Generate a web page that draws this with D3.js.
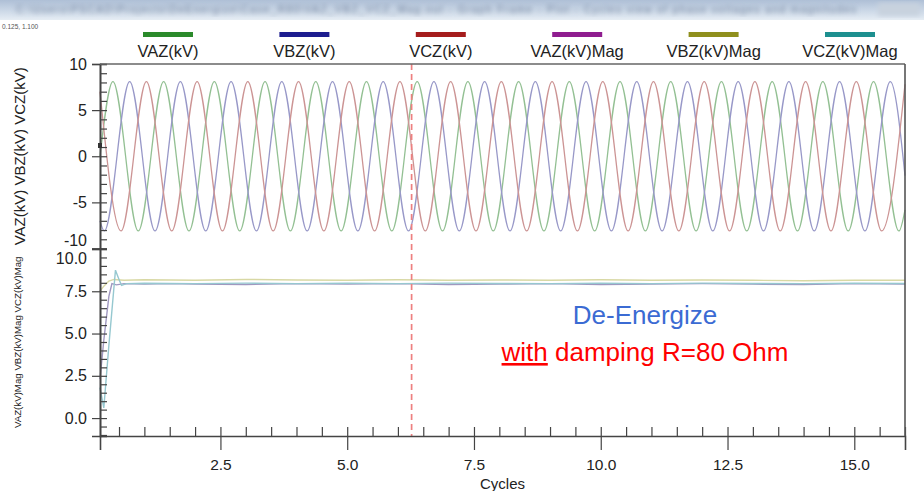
<!DOCTYPE html>
<html><head><meta charset="utf-8">
<script src="https://cdn.jsdelivr.net/npm/d3@7"></script>
<style>
body{margin:0;background:#fff;}
svg{display:block;font-family:"Liberation Sans",Arial,sans-serif;}
</style>
</head><body>
<svg id="chart" width="924" height="491"></svg>
<script>
// ---------- data ----------
const seriesNames = ["VAZ(kV)","VBZ(kV)","VCZ(kV)","VAZ(kV)Mag","VBZ(kV)Mag","VCZ(kV)Mag"];
const legendColors = ["#2b8a2b","#1d1d8f","#a51d1d","#8f1d8f","#8f8f1d","#1d8f8f"];
const traceColors  = ["#93c093","#9898c8","#cc9494","#a098c0","#d8d8a4","#96c8d0"];

// instantaneous voltages: values at edges and at every peak / trough (cycles, kV)
const vazT = [0.125,0.38,0.88,1.38,1.88,2.38,2.88,3.38,3.88,4.38,4.88,5.38,5.88,6.38,6.88,7.38,7.88,8.38,8.88,9.38,9.88,10.38,10.88,11.38,11.88,12.38,12.88,13.38,13.88,14.38,14.88,15.38,15.88,16.0];
const vazV = [0.0,8.1,-8.1,8.1,-8.1,8.1,-8.1,8.1,-8.1,8.1,-8.1,8.1,-8.1,8.1,-8.1,8.1,-8.1,8.1,-8.1,8.1,-8.1,8.1,-8.1,8.1,-8.1,8.1,-8.1,8.1,-8.1,8.1,-8.1,8.1,-8.1,-5.8];
const vbzT = [0.125,0.21,0.71,1.21,1.71,2.21,2.71,3.21,3.71,4.21,4.71,5.21,5.71,6.21,6.71,7.21,7.71,8.21,8.71,9.21,9.71,10.21,10.71,11.21,11.71,12.21,12.71,13.21,13.71,14.21,14.71,15.21,15.71,16.0];
const vbzV = [-7.0,-8.1,8.1,-8.1,8.1,-8.1,8.1,-8.1,8.1,-8.1,8.1,-8.1,8.1,-8.1,8.1,-8.1,8.1,-8.1,8.1,-8.1,8.1,-8.1,8.1,-8.1,8.1,-8.1,8.1,-8.1,8.1,-8.1,8.1,-8.1,8.1,-2.1];
const vczT = [0.125,0.54,1.04,1.54,2.04,2.54,3.04,3.54,4.04,4.54,5.04,5.54,6.04,6.54,7.04,7.54,8.04,8.54,9.04,9.54,10.04,10.54,11.04,11.54,12.04,12.54,13.04,13.54,14.04,14.54,15.04,15.54,16.0];
const vczV = [7.0,-8.1,8.1,-8.1,8.1,-8.1,8.1,-8.1,8.1,-8.1,8.1,-8.1,8.1,-8.1,8.1,-8.1,8.1,-8.1,8.1,-8.1,8.1,-8.1,8.1,-8.1,8.1,-8.1,8.1,-8.1,8.1,-8.1,8.1,-8.1,7.8];

// magnitudes (cycles, kV)
const vazMagT = [0.125,0.2,0.3,0.36,0.45,0.6,1,1.5,2,3,4,5,6,7,8,9,10,11,12,13,14,15,16];
const vazMagV = [2.3,4.6,7.2,7.95,7.88,7.95,7.92,7.95,7.93,7.9,7.95,7.92,7.95,7.9,7.93,7.95,7.9,7.93,7.95,7.92,7.9,7.95,7.93];
const vbzMagT = [0.125,0.2,0.3,0.4,0.6,1,2,3,4,5,6,7,8,9,10,11,12,13,14,15,16];
const vbzMagV = [7.5,7.8,8.1,8.2,8.15,8.18,8.15,8.2,8.17,8.15,8.18,8.15,8.17,8.15,8.18,8.15,8.17,8.15,8.12,8.15,8.15];
const vczMagT = [0.125,0.2,0.3,0.43,0.5,0.55,0.65,1,2,3,4,5,6,7,8,9,10,11,12,13,14,15,16];
const vczMagV = [1.8,0.6,4.3,8.75,8.2,7.85,7.95,7.97,7.95,7.98,7.95,7.97,7.95,7.98,7.96,7.95,7.97,7.95,7.98,7.96,7.95,7.97,7.96];

const markerCycle = 6.27;
const xMajor = [2.5,5.0,7.5,10.0,12.5,15.0];
const yTopMajor = [-10,-5,0,5,10];
const yBotMajor = [0,2.5,5,7.5,10];
const xDomain = [0.125,16.0];
const yTopDomain = [-10,10];
const yBotDomain = [-1.06,10];
const titleTop = "VAZ(kV) VBZ(kV) VCZ(kV)";
const titleBot = "VAZ(kV)Mag VBZ(kV)Mag VCZ(kV)Mag";

// ---------- drawing ----------
const svg = d3.select("#chart");
const L = 100, R = 905, T = 64, MID = 248.5, B = 436;

// window title bar imitation
const defs = svg.append("defs");
const g1 = defs.append("linearGradient").attr("id","tb").attr("x1",0).attr("y1",0).attr("x2",0).attr("y2",1);
g1.append("stop").attr("offset","0%").attr("stop-color","#aebfd6");
g1.append("stop").attr("offset","60%").attr("stop-color","#cfdbe9");
g1.append("stop").attr("offset","100%").attr("stop-color","#e6edf4");
defs.append("filter").attr("id","blur").append("feGaussianBlur").attr("stdDeviation",2.4);
svg.append("rect").attr("x",0).attr("y",0).attr("width",924).attr("height",20).attr("fill","url(#tb)");
svg.append("text").attr("x",16).attr("y",13).attr("font-size",10).attr("fill","#6d7e99")
  .attr("filter","url(#blur)").attr("textLength",840)
  .text("C:\\Users\\PSCAD\\Projects\\DeEnergize\\Case_R80\\VAZ_VBZ_VCZ_Mag.out - Graph Frame - Plot - Cycles view of phase voltages and magnitudes");
svg.append("rect").attr("x",878).attr("y",3).attr("width",42).attr("height",13).attr("fill","#c8d2de").attr("filter","url(#blur)");
svg.append("text").attr("x",2).attr("y",29).attr("font-size",6.5).attr("fill","#555").text("0.125, 1.100");

const x = d3.scaleLinear().domain(xDomain).range([L,R]);
const yT = d3.scaleLinear().domain(yTopDomain).range([MID,T]);
const yB = d3.scaleLinear().domain(yBotDomain).range([B,MID+0.5]);

// legend
const lx = d3.scalePoint().domain(seriesNames).range([168,850]);
const lg = svg.append("g").selectAll("g").data(seriesNames).join("g")
  .attr("transform",d=>`translate(${lx(d)},0)`);
lg.append("rect").attr("x",-25).attr("y",32).attr("width",50).attr("height",5)
  .attr("fill",(d,i)=>legendColors[i]);
lg.append("text").attr("y",57).attr("text-anchor","middle").attr("font-size",16.5)
  .attr("fill","#222").text(d=>d);

// traces
const lineCurve = d3.line().x(d=>x(d[0])).y(d=>yT(d[1])).curve(d3.curveMonotoneX);
const zipT = (t,v)=>t.map((tt,i)=>[tt,v[i]]);
const waves = [zipT(vazT,vazV),zipT(vbzT,vbzV),zipT(vczT,vczV)];
svg.append("g").selectAll("path").data(waves).join("path")
  .attr("d",lineCurve).attr("fill","none")
  .attr("stroke",(d,i)=>traceColors[i]).attr("stroke-width",1.3);

const magLine = d3.line().x(d=>x(d[0])).y(d=>yB(d[1]));
const mags = [zipT(vazMagT,vazMagV),zipT(vbzMagT,vbzMagV),zipT(vczMagT,vczMagV)];
svg.append("g").selectAll("path").data(mags).join("path")
  .attr("d",magLine).attr("fill","none")
  .attr("stroke",(d,i)=>traceColors[i+3]).attr("stroke-width",1.4);

// marker line
svg.append("line").attr("x1",x(markerCycle)).attr("x2",x(markerCycle))
  .attr("y1",T).attr("y2",B).attr("stroke","#ee8080").attr("stroke-width",1.7)
  .attr("stroke-dasharray","6,4");

// axes
const axCol = "#444";
const plain = d => String(d);
function styleAxis(g, fs){
  g.select(".domain").attr("stroke",axCol).attr("stroke-width",1.6);
  g.selectAll(".tick line").attr("stroke",axCol).attr("stroke-width",1.2);
  g.selectAll("text").attr("font-size",fs).attr("fill","#222").attr("font-family","Liberation Sans, Arial, sans-serif");
}
// top panel
const gTmin = svg.append("g").attr("transform",`translate(${L},0)`)
  .call(d3.axisLeft(yT).tickValues(d3.range(-10,10.01,1)).tickSize(-7).tickFormat(""));
styleAxis(gTmin,16);
const gT = svg.append("g").attr("transform",`translate(${L},0)`)
  .call(d3.axisLeft(yT).tickValues(yTopMajor).tickSize(8).tickPadding(5).tickFormat(plain));
styleAxis(gT,16);
gT.selectAll(".tick text").attr("dy",d=>d===-10?"-0.2em":"0.32em");
// bottom panel
const gBmin = svg.append("g").attr("transform",`translate(${L},0)`)
  .call(d3.axisLeft(yB).tickValues(d3.range(-1,10.01,0.5)).tickSize(-7).tickFormat(""));
styleAxis(gBmin,16);
const gB = svg.append("g").attr("transform",`translate(${L},0)`)
  .call(d3.axisLeft(yB).tickValues(yBotMajor).tickSize(8).tickPadding(5).tickFormat(d=>d.toFixed(1)));
styleAxis(gB,16);
gB.selectAll(".tick text").attr("dy",d=>d===10?"0.9em":"0.32em");
// x axis
const gXmin = svg.append("g").attr("transform",`translate(0,${B})`)
  .call(d3.axisBottom(x).tickValues(d3.range(0.5,16.01,0.5)).tickSize(-9).tickFormat(""));
styleAxis(gXmin,15);
gXmin.select(".domain").remove();
const gX = svg.append("g").attr("transform",`translate(0,${B})`)
  .call(d3.axisBottom(x).tickValues(xMajor).tickSize(14).tickPadding(9).tickFormat(d=>d.toFixed(1)));
styleAxis(gX,15.5);
// borders
svg.append("line").attr("x1",L).attr("x2",R).attr("y1",T).attr("y2",T).attr("stroke","#666").attr("stroke-width",1.3);
svg.append("line").attr("x1",R).attr("x2",R).attr("y1",T).attr("y2",B).attr("stroke","#555").attr("stroke-width",1.6);
svg.append("rect").attr("x",98).attr("y",143).attr("width",4).attr("height",5).attr("fill","#333");

// axis titles
svg.append("text").attr("transform",`translate(25,${(T+MID)/2}) rotate(-90)`)
  .attr("text-anchor","middle").attr("font-size",15).attr("fill","#222").text(titleTop);
svg.append("text").attr("transform",`translate(21,${(MID+B)/2}) rotate(-90)`)
  .attr("text-anchor","middle").attr("font-size",9.7).attr("fill","#222").text(titleBot);
svg.append("text").attr("x",(L+R)/2).attr("y",489).attr("text-anchor","middle")
  .attr("font-size",15).attr("fill","#222").text("Cycles");

// annotations
svg.append("text").attr("x",645).attr("y",324).attr("text-anchor","middle")
  .attr("font-size",26).attr("fill","#3b6bd3").text("De-Energize");
const t2 = svg.append("text").attr("x",645).attr("y",361).attr("text-anchor","middle")
  .attr("font-size",26).attr("fill","#ff0000");
t2.append("tspan").attr("text-decoration","underline").text("with");
t2.append("tspan").text(" damping R=80 Ohm");
</script>
</body></html>
